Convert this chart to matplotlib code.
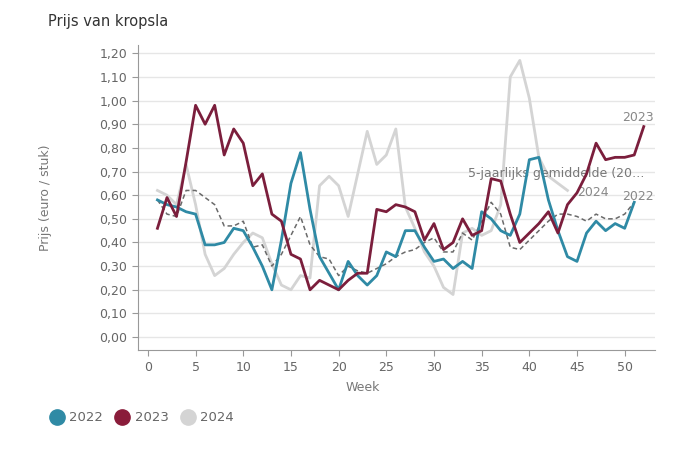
import matplotlib.pyplot as plt

weeks_22 = list(range(1, 52))
prijs_22 = [0.58, 0.56, 0.55, 0.53, 0.52, 0.39, 0.39, 0.40, 0.46, 0.45,
            0.38, 0.30, 0.20, 0.41, 0.65, 0.78, 0.54, 0.34, 0.27, 0.20,
            0.32, 0.26, 0.22, 0.26, 0.36, 0.34, 0.45, 0.45, 0.38, 0.32,
            0.33, 0.29, 0.32, 0.29, 0.53, 0.50, 0.45, 0.43, 0.52, 0.75,
            0.76, 0.58, 0.45, 0.34, 0.32, 0.44, 0.49, 0.45, 0.48, 0.46,
            0.57]

weeks_23 = list(range(1, 53))
prijs_23 = [0.46, 0.59, 0.51, 0.74, 0.98, 0.90, 0.98, 0.77, 0.88, 0.82,
            0.64, 0.69, 0.52, 0.49, 0.35, 0.33, 0.20, 0.24, 0.22, 0.20,
            0.24, 0.27, 0.27, 0.54, 0.53, 0.56, 0.55, 0.53, 0.41, 0.48,
            0.37, 0.40, 0.50, 0.43, 0.45, 0.67, 0.66, 0.52, 0.40, 0.44,
            0.48, 0.53, 0.44, 0.56, 0.61, 0.69, 0.82, 0.75, 0.76, 0.76,
            0.77, 0.89]

weeks_24 = list(range(1, 45))
prijs_24 = [0.62, 0.60, 0.56, 0.73, 0.56, 0.35, 0.26, 0.29, 0.35, 0.40,
            0.44, 0.42, 0.31, 0.22, 0.20, 0.26, 0.25, 0.64, 0.68, 0.64,
            0.51, 0.69, 0.87, 0.73, 0.77, 0.88, 0.55, 0.46, 0.36, 0.30,
            0.21, 0.18, 0.44, 0.46, 0.43, 0.45, 0.56, 1.10, 1.17, 1.01,
            0.76, 0.68, 0.65, 0.62]

weeks_gem = list(range(1, 52))
prijs_gem = [0.58, 0.52, 0.51, 0.62, 0.62, 0.59, 0.56, 0.47, 0.47, 0.49,
             0.38, 0.39, 0.30, 0.35, 0.43, 0.51, 0.39, 0.34, 0.33, 0.26,
             0.30, 0.28, 0.27, 0.29, 0.31, 0.34, 0.36, 0.37, 0.40, 0.42,
             0.36, 0.36, 0.44, 0.41, 0.49, 0.57, 0.52, 0.38, 0.37, 0.41,
             0.45, 0.49, 0.52, 0.52, 0.51, 0.49, 0.52, 0.50, 0.50, 0.52,
             0.57]

kleur_22 = "#2f8aa5"
kleur_23 = "#7b1e3c"
kleur_24 = "#d4d4d4"
kleur_gem = "#6a6a6a"
tekst = "#666666"

fig = plt.figure(figsize=(7, 4.5), dpi=100)
ax = fig.add_axes([0.197, 0.222, 0.739, 0.678])

ax.plot(weeks_24, prijs_24, color=kleur_24, lw=2, zorder=2)
ax.plot(weeks_gem, prijs_gem, color=kleur_gem, lw=1.1, ls=(0, (3, 2)), zorder=3)
ax.plot(weeks_22, prijs_22, color=kleur_22, lw=2, zorder=4)
ax.plot(weeks_23, prijs_23, color=kleur_23, lw=2, zorder=5)

# labels at the line ends
ax.text(53.0, prijs_23[-1] + 0.04, "2023", color="#888888", fontsize=9,
        ha="right", va="center")
ax.text(53.0, 0.595, "2022", color="#888888", fontsize=9,
        ha="right", va="center")
ax.text(45.0, 0.61, "2024", color="#888888", fontsize=9,
        ha="left", va="center")
ax.text(33.6, 0.69, "5-jaarlijks gemiddelde (20…", color="#777777", fontsize=9,
        ha="left", va="center")

ax.set_xlim(-1.05, 53.2)
ax.set_ylim(-0.055, 1.235)
ax.set_xticks([0, 5, 10, 15, 20, 25, 30, 35, 40, 45, 50])
yt = [i / 10 for i in range(13)]
ax.set_yticks(yt)
ax.set_yticklabels([f"{v:.2f}".replace(".", ",") for v in yt])
ax.grid(axis="y", color="#e6e6e6", lw=1)
ax.set_axisbelow(True)
for s in ["top", "right"]:
    ax.spines[s].set_visible(False)
for s in ["left", "bottom"]:
    ax.spines[s].set_color("#999999")
ax.tick_params(colors="#999999", labelcolor=tekst, labelsize=9, length=4)

ax.set_xlabel("Week", color="#777777", fontsize=9)
ax.xaxis.set_label_coords(0.435, -0.10)
ax.set_ylabel("Prijs (euro / stuk)", color="#777777", fontsize=9)
ax.yaxis.set_label_coords(-0.166, 0.5)
fig.text(0.068, 0.952, "Prijs van kropsla", fontsize=10.5, color="#333333", va="center")

# legend with circles
lx = [0.081, 0.175, 0.268]
for x, kleur, naam in zip(lx, [kleur_22, "#8a1c3a", kleur_24], ["2022", "2023", "2024"]):
    fig.lines.append(plt.Line2D([x], [0.073], marker="o", ms=11, color=kleur,
                                transform=fig.transFigure, ls=""))
    fig.text(x + 0.018, 0.073, naam, color=tekst, fontsize=9.5, va="center")

fig.savefig("out.png", dpi=100, facecolor="white")
